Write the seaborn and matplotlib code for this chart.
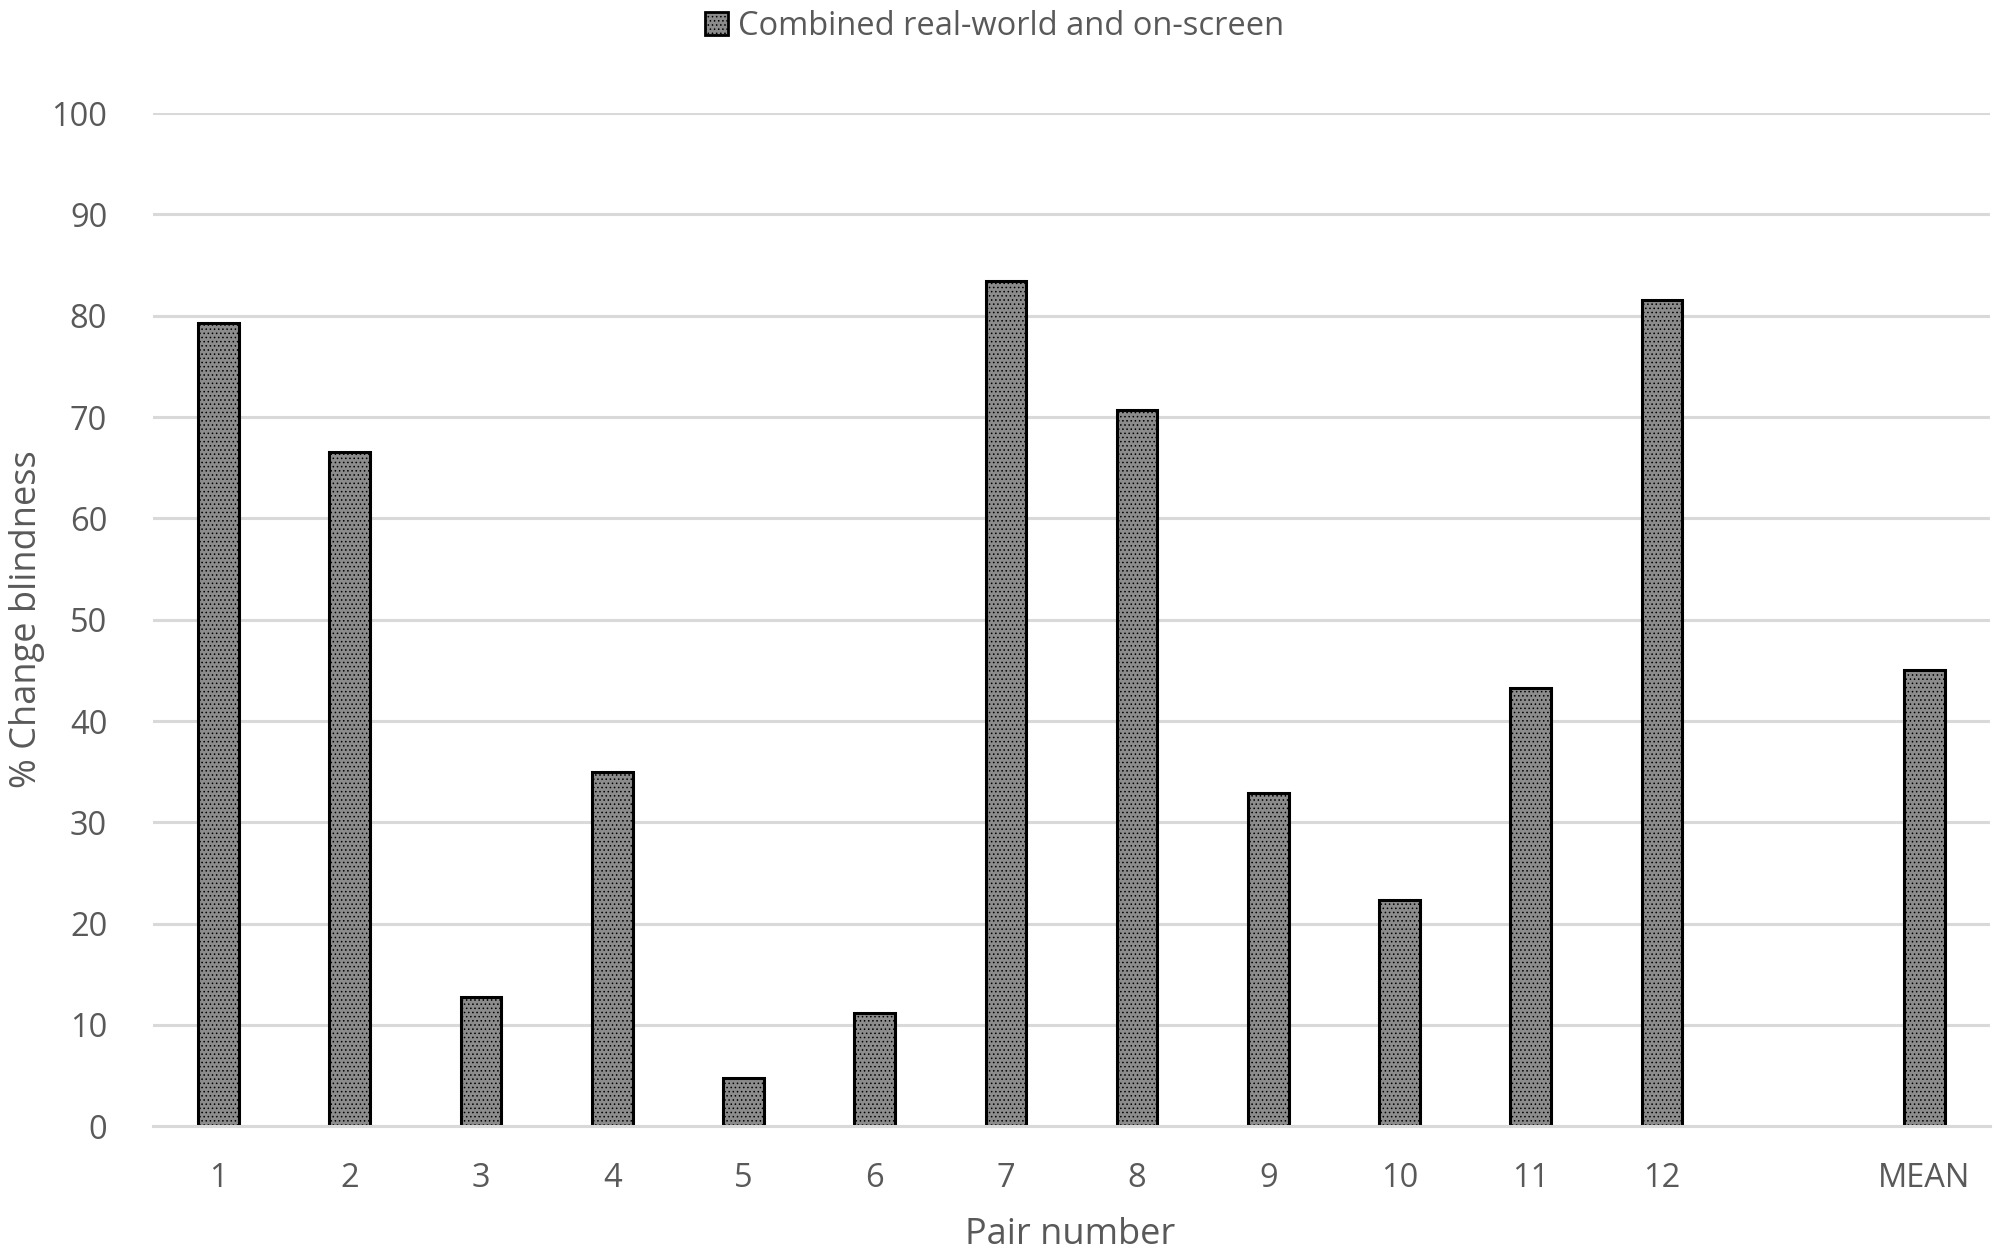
import matplotlib
matplotlib.use("Agg")
import matplotlib.pyplot as plt
import seaborn as sns
import numpy as np
import pandas as pd

categories = ["1", "2", "3", "4", "5", "6", "7", "8", "9", "10", "11", "12", " ", "MEAN"]
values = [79.3, 66.6, 12.8, 35.0, 4.8, 11.2, 83.4, 70.7, 32.9, 22.3, 43.3, 81.6, np.nan, 45.0]
series_name = "Combined real-world and on-screen"
y_ticks = [0, 10, 20, 30, 40, 50, 60, 70, 80, 90, 100]

sns.set_theme(style="white")
plt.rcParams['font.family'] = ['Open Sans', 'DejaVu Sans']
plt.rcParams['hatch.color'] = '#5a5a5a'
plt.rcParams['hatch.linewidth'] = 0.6

text_color = "#595959"
grid_color = "#d9d9d9"

df = pd.DataFrame({"Pair": categories, "Value": values, "Series": series_name})

fig = plt.figure(figsize=(20, 12.57), dpi=100)
ax = fig.add_axes([0.0765, 0.104, 0.9185, 0.806])

sns.barplot(data=df, x="Pair", y="Value", hue="Series", order=categories,
            palette=["#8c8c8c"], width=0.31, edgecolor="black", linewidth=2.2,
            ax=ax, legend=True)

for p in ax.patches:
    p.set_hatch("....")
    p.set_edgecolor("black")

ax.set_ylim(0, 100)
ax.set_yticks(y_ticks)
ax.set_xlim(-0.5, len(categories) - 0.5)
ax.yaxis.grid(True, color=grid_color, linewidth=2.2)
ax.set_axisbelow(True)
for s in ["top", "right", "left"]:
    ax.spines[s].set_visible(False)
ax.spines["bottom"].set_color(grid_color)
ax.spines["bottom"].set_linewidth(2.2)

ax.tick_params(axis="both", length=0, labelsize=23.5, colors=text_color)
ax.tick_params(axis="x", pad=26)
ax.tick_params(axis="y", pad=33)
ax.set_ylabel("% Change blindness", fontsize=26, color=text_color, va="center", ha="center")
ax.yaxis.set_label_coords(0.0135, 0.5076, transform=fig.transFigure)
ax.set_xlabel("Pair number", fontsize=26, color=text_color, va="center", ha="center")
ax.xaxis.set_label_coords(0.535, 0.0175, transform=fig.transFigure)

leg = ax.legend(loc="upper center", bbox_to_anchor=(0.458, 1.131), frameon=False,
                fontsize=23.5, handlelength=0.7, handleheight=0.7, handletextpad=0.3,
                labelcolor=text_color)
for h in leg.legend_handles:
    h.set_edgecolor("black")
    h.set_linewidth(2)

fig.savefig("out.png", dpi=100)
